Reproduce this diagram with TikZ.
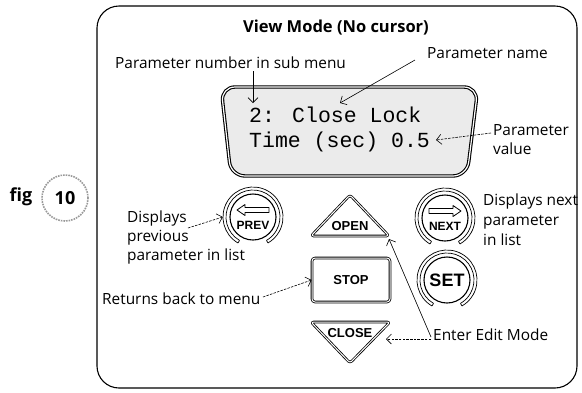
\documentclass[tikz,border=0pt]{standalone}
\usepackage{fontspec}
\setmainfont{Open Sans}
\newfontfamily\btnfont{Liberation Sans}
\newfontfamily\lcdfont{Liberation Mono}
\usetikzlibrary{arrows.meta}
\begin{document}
\begin{tikzpicture}[x=1pt,y=-1pt,
  lbl/.style={font=\fontsize{15.4}{19}\selectfont, inner sep=0pt, align=left},
  tipstyle/.style={-{Straight Barb[length=5pt,width=10pt,line width=0.6pt]}},
  conn/.style={line width=0.6pt, tipstyle},
  dconn/.style={conn, dash pattern=on 2.5pt off 1.2pt},
  btnline/.style={line width=0.8pt, double=white, double distance=1pt, line join=round},
  btxt/.style={font=\btnfont\bfseries\fontsize{13}{13}\selectfont, inner sep=0pt},
  ringbtn/.pic={
    \draw[line width=0.7pt] (120:30) arc[start angle=120,end angle=420,radius=30];
    \draw[line width=0.7pt] (120:27) arc[start angle=120,end angle=420,radius=27];
    \draw[line width=0.7pt] (120:27)--(120:30) (60:27)--(60:30);
    \draw[line width=1.1pt] (0,0) circle[radius=23];
  }
]
\useasboundingbox (0,0) rectangle (582,392);
% outer frame
\draw[line width=1.1pt, rounded corners=22pt] (97,6) rectangle (577,388);
\node[font=\bfseries\fontsize{16.5}{18}\selectfont] (title) at (336,28) {View Mode (No cursor)};

% fig label
\node[font=\bfseries\fontsize{18}{18}\selectfont] (fig) at (21,197) {fig};
\node[circle, draw=gray!80, line width=1.6pt, densely dotted, minimum size=46pt, inner sep=0pt,
      font=\bfseries\fontsize{18}{18}\selectfont] (fignum) at (65,198) {10};

% LCD
\draw[line width=1.1pt, double=white, double distance=1.2pt, fill=black!8, rounded corners=14pt]
  (221,87) -- (478,87) -- (467,176) -- (231,176) -- cycle;
\node[font=\lcdfont\fontsize{21.5}{21.5}\selectfont, anchor=west, inner sep=0pt] (lcd1) at (249,115) {2: Close Lock};
\node[font=\lcdfont\fontsize{21.5}{21.5}\selectfont, anchor=west, inner sep=0pt] (lcd2) at (249,142) {Time (sec) 0.5};

% labels
\node[lbl, anchor=west] (pnum) at (115,63) {Parameter number in sub menu};
\node[lbl, anchor=west] (pname) at (427,53) {Parameter name};
\node[lbl, anchor=west] (pval) at (493,139.5) {Parameter\\value};
\node[lbl, anchor=west] (prevlbl) at (127,237) {Displays\\previous\\parameter in list};
\node[lbl, anchor=west, font=\fontsize{15.4}{20}\selectfont] (nextlbl) at (483,220) {Displays next\\parameter\\in list};
\node[lbl, anchor=west] (retlbl) at (102,299) {Returns back to menu};
\node[lbl, anchor=west] (editlbl) at (433,335) {Enter Edit Mode};

% round buttons
\node[circle, minimum size=60pt, inner sep=0pt] (prev) at (253,217) {};
\pic at (prev.center) {ringbtn};
\begin{scope}[shift={(prev.center)}]
  \draw[line width=0.8pt, line join=round] (-16,-7) -- (-8,-12.5) -- (-8,-9.5) -- (16,-9.5) -- (16,-4.5) -- (-8,-4.5) -- (-8,-1.5) -- cycle;
  \node[btxt, font=\btnfont\bfseries\fontsize{12}{12}\selectfont] (prevtxt) at (0,8) {PREV};
\end{scope}

\node[circle, minimum size=60pt, inner sep=0pt] (next) at (445,218) {};
\pic at (next.center) {ringbtn};
\begin{scope}[shift={(next.center)}]
  \draw[line width=0.8pt, line join=round] (16,-7) -- (8,-12.5) -- (8,-9.5) -- (-16,-9.5) -- (-16,-4.5) -- (8,-4.5) -- (8,-1.5) -- cycle;
  \node[btxt, font=\btnfont\bfseries\fontsize{12}{12}\selectfont] (nexttxt) at (0,8) {NEXT};
\end{scope}

\node[circle, minimum size=60pt, inner sep=0pt] (set) at (447,280) {};
\pic at (set.center) {ringbtn};
\node[btxt, font=\btnfont\bfseries\fontsize{18}{18}\selectfont] (settxt) at (set.center) {SET};

% OPEN, STOP, CLOSE
\draw[btnline, rounded corners=2.5pt] (350,195) -- (389,236) -- (311,236) -- cycle;
\node[btxt] (open) at (350,226) {OPEN};
\coordinate (openR) at (389,239);

\node[draw, btnline, rounded corners=3pt, minimum width=78pt, minimum height=44pt, btxt] (stop) at (351,280) {STOP};

\draw[btnline, rounded corners=2.5pt] (311,322) -- (390,322) -- (350,363) -- cycle;
\node[btxt] (close) at (350,333) {CLOSE};
\coordinate (closeR) at (386,339);

% connector start points
\coordinate (pnumA) at (253,71);
\coordinate (lcdNum) at (253,103);
\coordinate (pnameA) at (415,60);
\coordinate (lcdName) at (340,103);
\coordinate (pvalA) at (491,133);
\coordinate (lcdVal) at (436,140);
\coordinate (prevA) at (188,228);
\coordinate (retA) at (263,297);
\coordinate (editA) at (431,337);

\draw[conn] (pnumA) -- (lcdNum);
\draw[conn] (pnameA) -- (lcdName);
\draw[dconn] (pvalA) -- (lcdVal);
\draw[dconn] (prevA) -- (prev.west);
\draw[dconn] (retA) -- (stop.west);
\draw[conn] (editA) -- (openR);
\draw[dconn] (editA |- closeR) -- (closeR);
\end{tikzpicture}
\end{document}
